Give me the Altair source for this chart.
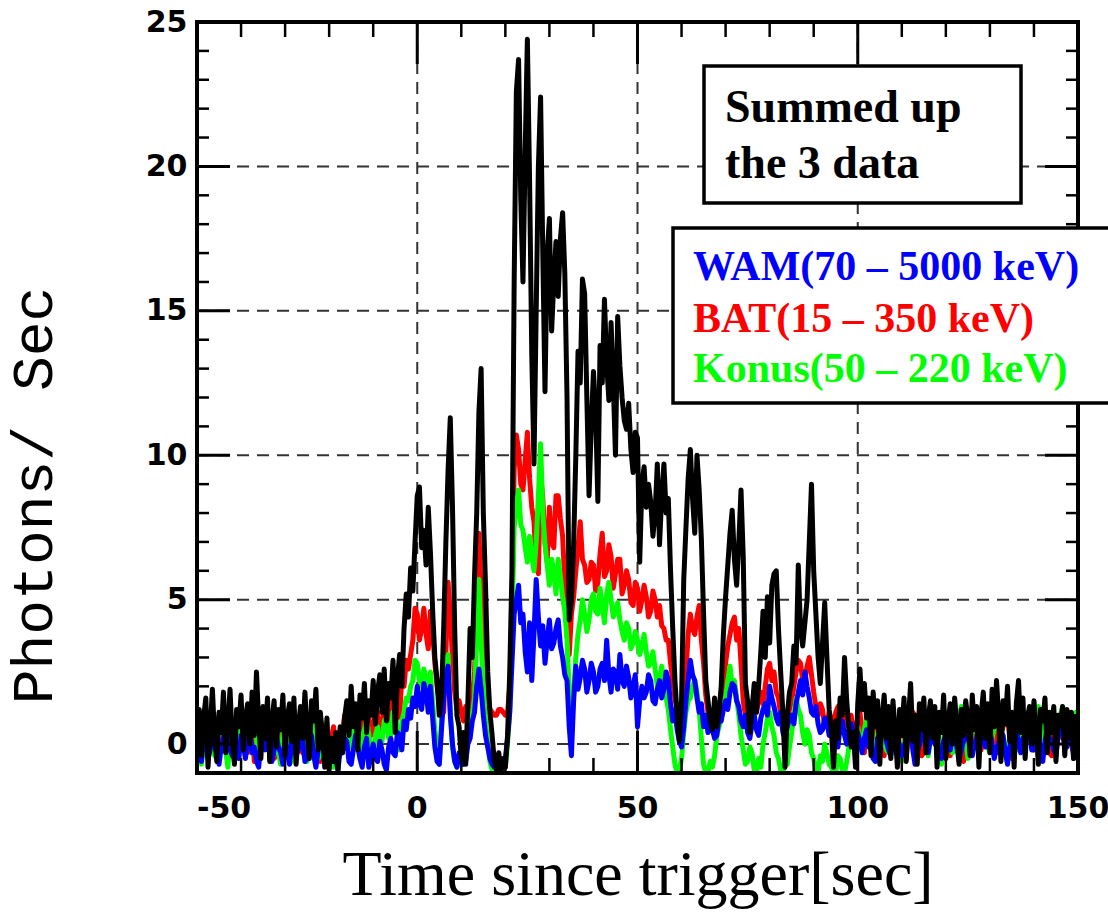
import altair as alt
import pandas as pd

# ---------------------------------------------------------------
# Light curves: count rate vs. time since trigger, 0.5 s bins
# starting at t = -50 s.  Each source line holds 5 s of data.
# ---------------------------------------------------------------
T0 = -50.0
STEP = 0.5

wam = [
    0.1, -0.3, -0.6, 0.2, 0.4, -0.5, -0.2, 0.3, 0.5, 0.0,
    -0.7, -0.1, 0.2, 0.6, 0.6, -0.2, -0.4, 0.3, 0.0, -0.5,
    0.3, 0.0, -0.5, 0.2, 0.5, -0.3, -0.1, -0.6, -0.8, 0.1,
    0.4, -0.2, 0.1, 0.5, -0.6, -0.2, 0.3, -0.1, -0.3, -0.7,
    0.2, -0.3, -0.7, 0.1, 0.4, -0.4, -0.2, 0.3, 0.1, -0.6,
    -0.5, 0.0, 0.3, -0.4, -0.8, -0.2, 0.0, 0.2, -0.4, -0.7,
    -0.6, -0.1, 0.2, -0.5, -0.9, -0.2, -0.3, 0.2, 0.1, -0.6,
    -0.7, -0.2, 0.3, -0.1, -0.5, -0.8, -0.1, 0.2, -0.8, -0.4,
    0.0, -0.5, -0.6, 0.1, -0.2, -0.7, -0.9, -0.1, 0.2, -0.3,
    -0.4, 0.4, 0.3, -0.2, 0.8, 0.5, 1.2, 0.9, 1.6, 1.3,
    2.0, 1.4, 1.2, 2.1, 1.8, 1.1, 2.0, 0.9, -0.1, -0.6,
    -0.7, 0.5, 1.6, 2.3, 2.7, 1.0, 0.0, -0.6, -0.8, -0.3,
    -0.4, -0.7, -0.6, 0.0, 0.2, 0.8, 1.1, 2.0, 2.6, 1.9,
    1.0, 0.3, -0.1, -0.5, -0.7, -0.8, -0.6, -0.9, -0.8, -0.6,
    -0.5, 0.2, 1.1, 2.8, 4.5, 5.0, 5.5, 4.2, 4.5, 3.2,
    2.5, 4.2, 2.2, 3.8, 5.7, 4.4, 3.4, 4.1, 2.8, 3.6,
    4.3, 3.3, 3.5, 4.0, 4.3, 3.4, 3.0, 2.4, 2.2, 0.6,
    -0.4, 1.5, 2.7, 1.9, 2.3, 2.9, 2.6, 1.8, 2.2, 2.8,
    2.5, 1.8, 2.0, 2.6, 2.8, 2.2, 3.6, 2.4, 1.8, 2.6,
    2.5, 1.9, 3.1, 2.2, 2.0, 2.7, 2.3, 1.6, 2.0, 2.4,
    0.6, 1.5, 2.0, 1.6, 1.8, 2.4, 2.2, 1.5, 1.4, 1.9,
    2.2, 1.6, 1.9, 2.5, 2.2, 1.4, 0.8, 1.2, 0.5, 0.1,
    -0.1, 0.6, 1.5, 2.2, 2.9, 2.4, 2.2, 1.6, 1.1, 1.4,
    0.6, 1.0, 0.4, 0.8, 0.5, 0.2, 0.3, 0.9, 0.8, 1.2,
    1.5, 1.2, 1.8, 2.1, 2.0, 1.5, 1.3, 0.8, 0.6, 1.0,
    0.4, 0.2, 0.7, 1.0, 0.5, 0.3, 0.9, 1.2, 1.4, 1.0,
    2.0, 1.6, 1.3, 0.9, 0.7, 1.1, 0.4, 0.2, 0.6, 0.9,
    1.0, 0.7, 1.4, 1.8, 2.2, 1.7, 2.5, 2.0, 1.6, 1.1,
    1.0, 1.3, 0.7, 0.4, 0.5, 0.9, 0.8, 0.3, 0.4, 0.7,
    0.2, -0.1, 0.6, 0.8, 0.3, 0.0, 0.5, 0.7, 0.1, -0.2,
    0.4, 0.1, -0.3, 0.2, 0.5, -0.1, 0.0, -0.5, -0.6, 0.2,
    0.3, 0.6, 0.7, 0.1, -0.2, -0.4, 0.1, 0.4, 0.5, -0.1,
    -0.4, -0.1, 0.2, 0.5, 0.6, -0.2, -0.7, -0.3, 0.0, 0.3,
    0.4, -0.1, -0.3, 0.2, 0.5, 0.0, 0.1, -0.4, -0.5, 0.1,
    0.3, 0.0, -0.2, 0.4, 0.6, -0.1, -0.6, -0.2, 0.1, 0.3,
    0.4, -0.2, -0.4, 0.0, 0.2, 0.6, 0.7, 0.1, -0.1, 0.2,
    0.5, 0.0, -0.5, -0.1, 0.0, 0.4, 0.3, -0.3, -0.7, -0.1,
    0.2, 0.5, 0.6, 0.0, -0.3, 0.2, 0.1, 0.5, 0.4, -0.2,
    -0.2, 0.2, 0.3, -0.3, -0.6, 0.1, 0.5, 0.2, 0.1, -0.2,
    -0.4, 0.3, 0.7, 0.4, 0.0, -0.1, 0.3, 0.6, -0.5, 0.2,
    0.9,
]

bat = [
    0.5, 0.9, -0.6, 0.2, 0.8, -0.4, 0.2, 1.1, -0.3, 0.4,
    1.0, -0.2, 0.1, 0.8, -0.5, 0.3, 0.7, -0.1, 0.3, 0.9,
    -0.2, 0.5, 0.9, -0.3, 0.4, 1.0, -0.6, 0.1, 0.6, 1.2,
    1.1, 0.2, -0.1, 0.7, 0.5, -0.5, -0.4, 0.6, 0.8, 0.0,
    0.2, 0.8, -0.5, 0.4, 1.2, 0.6, 0.3, -0.2, -0.3, 0.5,
    0.7, -0.1, 0.0, 1.0, 0.9, 0.2, -0.6, 0.3, 0.4, -0.4,
    -0.3, 0.2, 0.6, -0.2, -0.5, 0.5, 0.3, 1.0, 0.8, -0.1,
    0.1, 0.7, 1.0, 0.2, 0.4, 1.1, -0.2, 0.6, 0.9, 0.3,
    0.5, 1.3, 1.1, 0.4, 0.3, 1.5, 1.3, 0.6, 0.7, 1.8,
    1.6, 0.9, 1.0, 2.3, 2.0, 2.9, 2.6, 3.1, 3.6, 4.7,
    4.5, 3.6, 4.0, 4.7, 3.8, 3.3, 4.6, 3.9, 2.8, 2.0,
    1.5, 1.0, 1.1, 3.2, 5.6, 4.4, 3.0, 1.8, 1.2, 1.5,
    1.1, 0.8, 1.3, 1.0, 1.0, 1.6, 2.5, 4.6, 7.3, 5.2,
    3.5, 2.2, 1.5, 1.2, 1.1, 1.0, 1.0, 1.2, 1.2, 1.1,
    1.0, 1.1, 2.0, 4.5, 9.5, 10.7, 10.2, 9.0, 8.8, 9.8,
    10.8, 9.2, 8.2, 7.7, 6.2, 5.9, 9.4, 8.5, 7.0, 6.3,
    8.2, 7.0, 6.8, 8.6, 8.6, 7.8, 7.2, 5.6, 3.8, 3.1,
    4.5, 5.1, 6.0, 6.8, 7.7, 6.4, 6.2, 5.6, 5.7, 6.3,
    6.2, 5.3, 5.6, 6.6, 7.3, 5.8, 6.0, 6.9, 6.5, 5.4,
    5.9, 6.4, 6.4, 5.2, 5.5, 6.0, 5.7, 4.9, 4.8, 5.6,
    5.4, 4.6, 5.0, 5.5, 5.1, 4.4, 4.6, 5.3, 5.0, 4.4,
    4.8, 4.1, 4.0, 3.6, 3.6, 2.8, 2.2, 1.6, 1.1, 0.6,
    0.5, 1.2, 2.5, 3.8, 4.5, 4.0, 3.8, 4.4, 4.8, 3.6,
    2.8, 1.7, 1.1, 0.8, 0.9, 1.3, 1.2, 0.8, 1.6, 2.2,
    2.8, 3.4, 3.8, 4.2, 4.4, 3.6, 4.0, 2.8, 1.5, 1.0,
    1.1, 0.7, 0.8, 1.3, 1.1, 1.5, 1.8, 1.4, 2.0, 2.6,
    2.8, 2.2, 2.5, 1.8, 1.6, 1.0, 1.1, 0.7, 0.8, 1.2,
    1.5, 2.0, 2.5, 2.9, 2.8, 2.2, 2.2, 2.7, 3.0, 2.4,
    1.8, 1.3, 1.0, 1.4, 1.2, 0.6, 0.7, 1.1, 0.9, 0.5,
    1.1, 1.3, 0.8, 0.4, 1.0, 0.7, 0.6, 1.0, 0.4, 0.7,
    0.8, 1.1, 0.3, -0.3, 1.0, 0.5, -0.2, 0.4, 0.6, 1.2,
    0.9, 0.1, -0.4, 0.3, 0.5, 1.0, 1.1, 0.4, 0.0, 0.6,
    0.7, 0.2, -0.5, 0.5, 0.4, 1.1, 1.0, 0.3, 0.2, -0.4,
    -0.3, 0.6, 0.8, 1.3, 1.2, 0.2, -0.1, 0.7, 0.5, 0.9,
    0.9, 0.3, -0.4, 0.2, 0.6, 0.9, 0.3, -0.2, -0.6, 0.4,
    0.8, 0.2, 0.1, 0.7, 1.0, 0.4, -0.2, 0.3, 0.5, 0.8,
    0.2, 0.6, 0.9, 0.1, -0.3, 0.4, 0.6, 1.2, 1.1, 0.2,
    -0.5, 0.3, 0.4, 1.0, 0.8, 0.2, 0.0, 0.5, 0.7, 0.1,
    -0.2, 0.4, 0.5, 1.1, 1.0, 0.2, 0.3, -0.3, -0.4, 0.5,
    0.6, 1.0, 0.9, 0.2, 0.1, 0.7, 0.4, 0.0, -0.3, 0.4,
    0.6,
]

konus = [
    0.2, 0.6, -0.7, 0.0, 0.6, 1.1, 1.0, 0.3, -0.4, 0.2,
    0.3, 0.9, 0.8, -0.2, -0.8, 0.1, 0.5, 0.9, 0.1, -0.3,
    0.7, 0.1, -0.3, 0.5, 0.4, 1.0, 1.1, 0.2, -0.6, 0.3,
    0.2, 0.8, 0.9, 0.0, -0.2, 0.6, 0.5, -0.3, -0.7, 0.4,
    0.6, 0.3, 0.0, -0.6, -0.5, 0.5, 0.9, 0.2, 0.3, -0.2,
    -0.6, 0.7, 1.2, 0.4, 0.1, -0.5, -0.4, 0.3, 0.7, 0.1,
    0.2, -0.4, -0.8, 0.1, 0.4, -0.2, -0.3, 0.5, 0.6, -0.1,
    0.0, 0.7, 0.8, 0.1, -0.5, 0.2, 0.5, 0.9, 0.3, -0.3,
    -0.4, 0.3, 0.6, 0.0, 0.1, 0.8, 0.9, 0.2, 0.3, 1.1,
    1.0, 0.4, -0.2, 0.8, 1.1, 1.6, 1.5, 2.0, 2.2, 2.9,
    2.8, 2.2, 2.0, 2.6, 2.3, 1.8, 2.5, 1.4, 0.5, -0.2,
    -0.7, 0.8, 2.5, 2.9, 3.1, 1.2, -0.1, -0.6, -0.8, -0.4,
    -0.6, -0.2, 0.0, 0.4, 0.6, 1.0, 1.6, 3.8, 5.7, 3.5,
    2.0, 0.8, 0.0, -0.6, -0.9, -0.8, -0.9, -0.9, -0.9, -0.7,
    -0.8, 0.0, 1.2, 4.0, 7.5, 8.2, 8.8, 7.6, 7.4, 6.8,
    6.3, 7.2, 6.5, 6.0, 7.0, 8.6, 10.4, 8.0, 6.9, 6.2,
    5.5, 6.4, 6.0, 5.2, 6.4, 5.8, 5.1, 4.6, 3.6, 1.8,
    0.5, 1.8, 3.0, 3.8, 4.3, 5.0, 4.5, 3.9, 4.3, 5.0,
    5.2, 4.6, 4.5, 5.4, 4.8, 4.2, 5.2, 5.6, 5.0, 4.4,
    4.6, 4.9, 4.3, 3.9, 3.6, 4.2, 4.0, 3.3, 3.5, 3.9,
    3.6, 3.1, 3.4, 3.8, 3.2, 2.7, 2.8, 3.2, 2.6, 2.0,
    2.2, 2.7, 2.2, 1.6, 1.2, 0.5, -0.1, -0.7, -1.0, -0.9,
    -0.5, 0.4, 1.1, 1.5, 1.6, 2.0, 2.2, 1.8, 1.2, 0.2,
    -0.7, -1.0, -1.0, -0.6, -0.8, -0.4, 0.3, 0.6, 0.9, 1.4,
    1.6, 2.2, 2.7, 2.0, 2.2, 1.6, 1.0, 0.3, -0.2, -0.7,
    -0.6, -0.1, -0.3, -0.9, -1.0, -0.5, -0.8, 0.0, 0.4, 0.9,
    1.1, 0.6, 0.3, -0.3, -0.5, -0.9, -1.0, -0.6, -0.7, -0.1,
    0.4, 1.0, 1.6, 1.2, 1.0, 0.4, 0.0, 0.5, 0.3, -0.3,
    -0.5, -0.9, -1.0, -0.4, -0.6, 0.0, -0.3, -0.7, -0.8, -1.0,
    -1.0, -0.4, -0.5, -0.9, -1.0, -0.6, -0.1, 0.4, 0.3, -0.2,
    0.6, 0.1, -0.2, 0.5, 0.9, 0.0, 0.3, -0.4, -0.5, 0.4,
    0.7, 0.9, 0.1, -0.2, -0.3, 0.6, 1.0, 0.5, 0.2, -0.3,
    -0.6, 0.0, 0.5, 0.8, 0.9, 0.3, -0.1, 0.6, 0.4, 0.8,
    1.1, 0.3, -0.4, 0.2, 0.6, 1.0, 0.2, -0.3, -0.7, 0.2,
    0.8, 0.4, 0.3, -0.3, -0.2, 0.5, 0.7, 1.3, 1.2, 0.3,
    -0.5, 0.1, 0.4, 0.8, 0.9, 0.2, 0.0, 0.6, 0.5, -0.1,
    -0.3, 0.2, 0.6, 1.1, 1.0, 0.3, 0.2, -0.4, -0.6, 0.3,
    0.8, 0.5, 0.4, -0.2, -0.1, 0.6, 0.9, 1.0, 0.3, 0.5,
    0.7, 1.1, 1.3, 0.8, 0.5, 0.1, -0.2, 0.5, 0.8, 0.6,
    0.4, 0.9, 1.0, 1.3, 0.6, 0.8, 0.2, 0.7, 0.9, 1.1,
    0.5,
]

summed = [
    0.3, 1.2, -0.4, 0.9, 1.6, -0.8, 0.5, 1.9, 0.2, -0.6,
    1.1, 0.4, 1.8, -0.3, 0.7, 1.9, 0.1, -0.7, 1.2, 0.6,
    1.7, -0.2, 0.9, 1.4, 0.0, 1.8, 0.3, 2.5, 0.8, -0.5,
    1.3, 0.2, 1.6, -0.6, 0.8, 1.5, -0.1, 1.2, 0.5, 1.7,
    -0.4, 0.9, 1.4, 0.1, 1.6, -0.7, 0.6, 1.3, 0.2, 1.8,
    0.4, -0.5, 1.5, 0.8, 1.9, -0.2, 1.1, 0.3, -0.8, 0.9,
    -0.9, 0.2, -0.6, 0.4, -0.9, 0.6, -0.3, 0.9, 1.5, 0.3,
    2.0, 0.6, 1.4, -0.2, 1.7, 0.9, 2.1, 0.4, 1.5, 1.0,
    2.2, 0.7, 1.8, 2.4, 1.1, 2.6, 0.8, 2.1, 1.6, 2.9,
    0.4, 2.3, 3.1, 2.0, 4.0, 5.2, 4.4, 6.1, 5.3, 7.0,
    8.6, 8.9, 6.8, 7.4, 6.2, 8.2, 6.6, 4.6, 3.0, 2.2,
    1.0, 1.6, 4.0, 7.0, 9.5, 11.3, 8.2, 4.0, 1.0, 0.6,
    -0.5, 0.4, -0.7, 1.5, 4.0, 3.0, 5.8, 8.0, 11.5, 13.0,
    8.0, 5.5, 2.5, 1.1, 0.3, -0.6, -0.9, -0.3, -1.0, -0.5,
    -0.8, 0.3, 2.5, 6.0, 16.0, 22.6, 23.7, 18.9, 16.0, 20.5,
    24.4, 19.5, 13.5, 9.7, 15.0, 20.0, 22.4, 17.0, 12.2, 17.0,
    18.2, 14.3, 16.0, 17.4, 15.5, 17.5, 18.4, 16.3, 12.0, 4.3,
    5.0, 6.9, 10.0, 13.6, 12.5, 16.1, 15.6, 12.0, 8.6, 11.0,
    12.9, 11.5, 8.4, 13.8, 12.5, 15.4, 13.2, 11.9, 14.6, 12.5,
    10.0, 14.8, 13.1, 12.0, 11.2, 10.9, 11.8, 10.2, 9.4, 10.8,
    10.6, 6.3, 9.0, 9.6, 8.2, 9.0, 8.4, 7.2, 8.0, 9.7,
    6.9, 8.6, 9.7, 8.0, 8.5, 6.0, 4.0, 2.2, 1.0, 0.1,
    1.5, 5.7, 7.5, 9.2, 10.2, 8.5, 7.3, 10.0, 8.8, 7.1,
    4.5, 2.2, 1.5, 0.8, 0.5, 1.6, 0.6, 1.1, 2.0, 3.8,
    5.1, 6.2, 7.3, 8.1, 6.4, 5.5, 7.0, 8.8, 6.5, 2.1,
    1.5, 0.4, 1.2, 2.1, 1.1, 2.0, 3.2, 4.6, 3.0, 5.1,
    3.5, 5.5, 5.9, 6.0, 4.0, 2.5, 1.1, -0.8, 1.0, 1.8,
    2.1, 3.4, 2.8, 6.2, 4.0, 3.4, 4.2, 5.0, 7.0, 9.0,
    6.0, 4.5, 3.0, 2.1, 3.5, 4.9, 3.0, 1.2, 0.5, -0.8,
    0.8, 0.2, 1.6, 1.0, 3.0, 1.5, 0.5, -0.1, 0.4, -0.8,
    1.4, 2.6, 1.2, 2.1, 0.9, 1.6, -0.4, 1.8, 0.6, 1.5,
    -0.7, 0.9, 1.7, 0.2, 1.3, -0.5, 1.5, 0.4, -0.8, 1.2,
    0.3, 1.6, -0.6, 0.8, 2.1, 0.1, 1.0, -0.7, 1.4, 0.5,
    1.6, -0.3, 0.9, 1.5, 0.2, 1.3, -0.8, 1.1, 0.4, 1.7,
    -0.5, 0.8, 1.4, 0.0, 1.6, 0.6, -0.7, 1.2, 0.3, 1.5,
    0.9, -0.4, 1.7, 0.5, 1.3, -0.8, 1.0, 1.8, 0.2, 1.4,
    -0.3, 1.9, 0.6, 2.2, 1.0, -0.6, 1.5, 0.7, 2.0, 0.1,
    1.1, -0.8, 1.4, 2.2, 0.4, 1.6, -0.5, 0.9, 1.3, 0.0,
    1.5, 0.5, -0.7, 1.2, 0.8, 1.6, -0.3, 1.1, 0.4, 1.3,
    -0.6, 1.0, 0.6, 1.3, -0.4, 1.2, 0.2, 1.1, -0.5, 0.9,
    0.5,
]

# axis ticks and grid
X_MAJOR = [-50, 0, 50, 100, 150]
X_MINOR = [-40, -30, -20, -10, 10, 20, 30, 40, 60, 70, 80, 90, 110, 120, 130, 140]
Y_MAJOR = [0, 5, 10, 15, 20, 25]
Y_MINOR = [1, 2, 3, 4, 6, 7, 8, 9, 11, 12, 13, 14, 16, 17, 18, 19, 21, 22, 23, 24]
X_GRID = [0, 50, 100]
Y_GRID = [0, 5, 10, 15, 20]

LEGEND = [
    ("WAM(70 \u2013 5000 keV)", "#0000ff"),
    ("BAT(15 \u2013 350 keV)", "#ff0000"),
    ("Konus(50 \u2013 220 keV)", "#00ff00"),
]

# ---------------------------------------------------------------
W, H = 881, 751
TICK_FONT = "DejaVu Sans"
TICK_SIZE = 30

x_scale = alt.Scale(domain=[-50, 150], nice=False, zero=False)
y_scale = alt.Scale(domain=[-1, 25], nice=False, zero=False)

# bottom labels are drawn as text marks below, so the axis keeps only its title
x_axis = alt.Axis(
    values=X_MAJOR, ticks=False, domain=False, grid=False, labels=False,
    title="Time since trigger[sec]", titleFont="Liberation Serif",
    titleFontSize=64, titleFontWeight="normal", titleColor="black",
    titleX=W / 2, titleY=121, titleBaseline="alphabetic", titleAlign="center",
)
y_axis = alt.Axis(
    values=Y_MAJOR, ticks=False, domain=False, grid=False,
    labelFont=TICK_FONT, labelFontWeight="bold", labelFontSize=TICK_SIZE,
    labelColor="black", labelPadding=10,
    title="Photons/ Sec", titleFont="Liberation Mono",
    titleFontSize=58, titleFontWeight="normal", titleColor="black",
    titleX=-146, titleY=473, titleBaseline="alphabetic", titleAlign="center",
)

X_T = alt.X("t:Q", scale=x_scale, axis=x_axis)
Y_T = alt.Y("rate:Q", scale=y_scale, axis=y_axis)
X_V = alt.X("v:Q", scale=x_scale, axis=x_axis)
Y_V = alt.Y("v:Q", scale=y_scale, axis=y_axis)


def frame(values):
    return pd.DataFrame({"t": [T0 + i * STEP for i in range(len(values))], "rate": values})


def curve(values, color):
    return alt.Chart(frame(values)).mark_line(
        color=color, strokeWidth=5, clip=True, strokeJoin="round"
    ).encode(x=X_T, y=Y_T)


def vlist(vals):
    return pd.DataFrame({"v": vals})


one = pd.DataFrame({"k": [0]})

grid_x = alt.Chart(vlist(X_GRID)).mark_rule(
    color="#333333", strokeWidth=2, strokeDash=[12, 8]
).encode(x=X_V, y=alt.value(0), y2=alt.value(H))
grid_y = alt.Chart(vlist(Y_GRID)).mark_rule(
    color="#333333", strokeWidth=2, strokeDash=[12, 8]
).encode(y=Y_V, x=alt.value(0), x2=alt.value(W))


def xticks(vals, length, width):
    base = alt.Chart(vlist(vals)).mark_rule(color="black", strokeWidth=width)
    return [
        base.encode(x=X_V, y=alt.value(H), y2=alt.value(H - length)),
        base.encode(x=X_V, y=alt.value(0), y2=alt.value(length)),
    ]


def yticks(vals, length, width):
    base = alt.Chart(vlist(vals)).mark_rule(color="black", strokeWidth=width)
    return [
        base.encode(y=Y_V, x=alt.value(0), x2=alt.value(length)),
        base.encode(y=Y_V, x=alt.value(W), x2=alt.value(W - length)),
    ]


ticks = (xticks(X_MAJOR, 42, 3) + xticks(X_MINOR, 15, 2.5)
         + yticks(Y_MAJOR, 33, 3) + yticks(Y_MINOR, 12, 2.5))


# x tick labels (plain hyphen for the minus sign); the first one starts at
# the left edge of the frame, the others are centred on their tick
def xlabels(vals, align):
    return alt.Chart(vlist(vals)).transform_calculate(
        lab="toString(datum.v)"
    ).mark_text(
        align=align, baseline="top", font=TICK_FONT, fontWeight="bold",
        fontSize=TICK_SIZE, color="black",
    ).encode(x=X_V, y=alt.value(H + 21), text="lab:N")


x_labels = [xlabels(X_MAJOR[:1], "left"), xlabels(X_MAJOR[1:], "center")]

border = alt.Chart(one).mark_rect(fill="transparent", stroke="black", strokeWidth=4).encode(
    x=alt.value(0), x2=alt.value(W), y=alt.value(0), y2=alt.value(H)
)

box_note = alt.Chart(one).mark_rect(fill="white", stroke="black", strokeWidth=3.5).encode(
    x=alt.value(507), x2=alt.value(824), y=alt.value(44), y2=alt.value(181)
)
note_text = [
    alt.Chart(one).mark_text(
        align="left", baseline="alphabetic", font="Liberation Serif",
        fontWeight="bold", fontSize=46, color="black",
    ).encode(x=alt.value(528), y=alt.value(y), text=alt.value(s))
    for s, y in [("Summed up", 100), ("the 3 data", 156)]
]

box_legend = alt.Chart(one).mark_rect(fill="white", stroke="black", strokeWidth=3.5).encode(
    x=alt.value(476), x2=alt.value(930), y=alt.value(206), y2=alt.value(381)
)
legend_text = [
    alt.Chart(one).mark_text(
        align="left", baseline="alphabetic", font="Liberation Serif",
        fontWeight="bold", fontSize=42, color=c,
    ).encode(x=alt.value(496), y=alt.value(y), text=alt.value(s))
    for (s, c), y in zip(LEGEND, [258, 310, 360])
]

layers = [
    grid_x, grid_y,
    curve(bat, "#ff0000"),
    curve(konus, "#00ff00"),
    curve(wam, "#0000ff"),
    curve(summed, "#000000"),
    *ticks,
    border,
    *x_labels,
    box_note, *note_text,
    box_legend, *legend_text,
]

chart = alt.layer(*layers).properties(
    width=W, height=H,
    padding={"left": 197, "top": 22, "right": 30, "bottom": 140},
    autosize=alt.AutoSizeParams(type="none"),
    background="white",
).configure_view(stroke="transparent")

chart.save("out.html", embed_options={"renderer": "svg", "actions": False})
